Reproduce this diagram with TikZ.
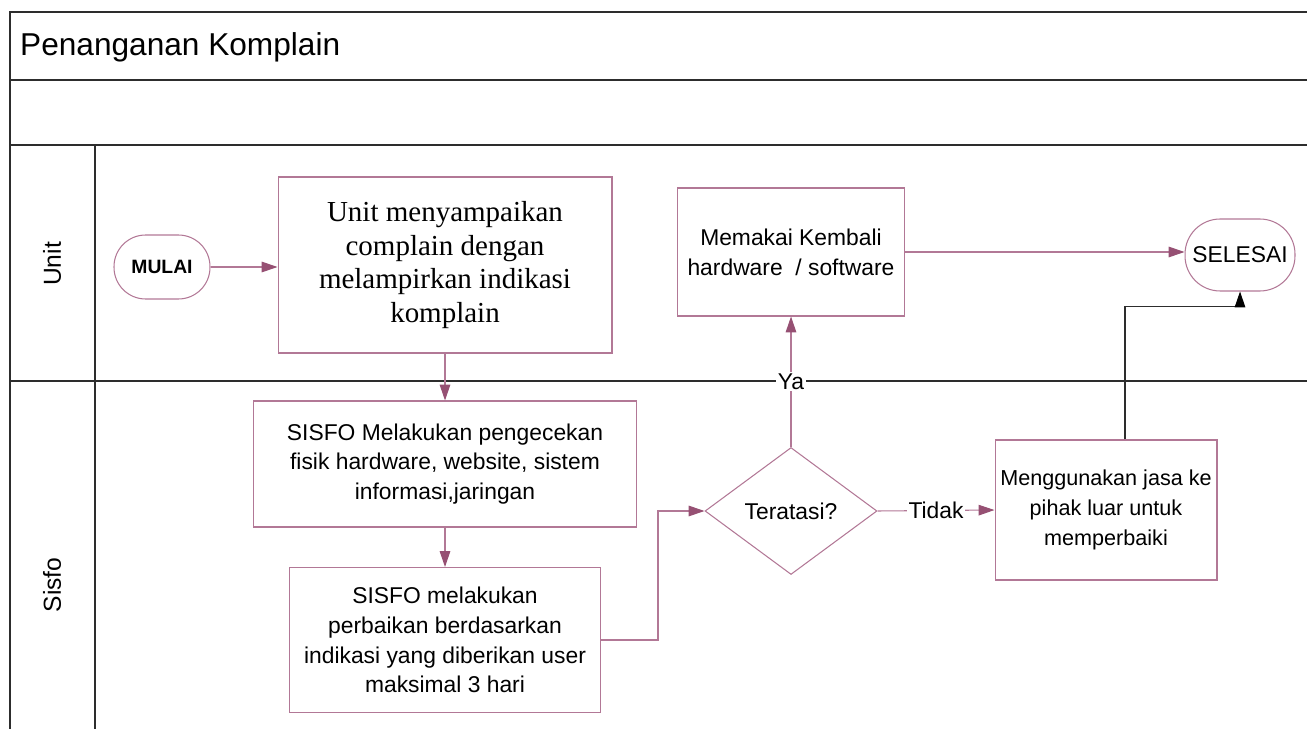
\documentclass[tikz,border=0pt]{standalone}
\usepackage{fontspec}
\setmainfont{Liberation Sans}
\newfontfamily\hurufserif{Liberation Serif}
\usepackage{tikz}
\usetikzlibrary{shapes.geometric, arrows.meta}
\definecolor{garis}{RGB}{178,120,150}
\definecolor{panah}{RGB}{150,80,115}
\definecolor{bingkai}{RGB}{45,45,45}
\tikzstyle{kotak} = [draw=garis, line width=0.6pt, rectangle, align=center, inner sep=0pt, font=\fontsize{13}{17}\selectfont]
\tikzstyle{terminal} = [draw=garis, line width=0.6pt, rectangle, align=center, inner sep=0pt]
\tikzstyle{keputusan} = [draw=garis, line width=0.6pt, diamond, align=center, inner sep=0pt, font=\fontsize{13}{16}\selectfont]
\tikzstyle{alur} = [draw=garis, line width=0.6pt, -{Triangle[length=9pt,width=6pt,color=panah]}]
\tikzstyle{alurhitam} = [draw=bingkai, line width=0.6pt, -{Triangle[length=9pt,width=6pt,color=black]}]
\tikzstyle{ket} = [fill=white, inner sep=1pt, font=\fontsize{13}{15}\selectfont]

\begin{document}
\begin{tikzpicture}[x=0.02cm,y=-0.02cm]
\useasboundingbox (0,0) rectangle (1307,729);

% Bingkai dan lajur
\begin{scope}[color=bingkai, line width=0.8pt]
\draw (10,729) -- (10,12) -- (1307,12);
\draw (10,80) -- (1307,80);
\draw (10,145) -- (1307,145);
\draw (10,381) -- (1307,381);
\draw (95,145) -- (95,729);
\end{scope}

\node[anchor=west, font=\fontsize{18}{20}\selectfont] (judul) at (14,47) {Penanganan Komplain};
\node[rotate=90, font=\fontsize{14}{16}\selectfont] (lajurunit) at (52,264) {Unit};
\node[rotate=90, font=\fontsize{14}{16}\selectfont] (lajursisfo) at (52,585) {Sisfo};

% Lajur Unit
\node[terminal, rounded corners=18pt, minimum width=1.92cm, minimum height=1.28cm, font=\fontsize{11}{13}\selectfont\bfseries] (mulai) at (162,267) {MULAI};
\node[kotak, minimum width=6.68cm, minimum height=3.52cm, font=\hurufserif\fontsize{16.5}{19}\selectfont] (sampaikan) at (445,265) {Unit menyampaikan\\complain dengan\\melampirkan indikasi\\komplain};
\node[kotak, minimum width=4.54cm, minimum height=2.56cm] (pakai) at (791,252) {Memakai Kembali\\hardware \ / software};
\node[terminal, rounded corners=20pt, minimum width=2.2cm, minimum height=1.44cm, font=\fontsize{13}{15}\selectfont] (selesai) at (1240,255) {SELESAI};

% Lajur Sisfo
\node[kotak, minimum width=7.66cm, minimum height=2.52cm] (cek) at (445,464) {SISFO Melakukan pengecekan\\fisik hardware, website, sistem\\informasi,jaringan};
\node[kotak, minimum width=6.22cm, minimum height=2.9cm] (perbaikan) at (445,640) {SISFO melakukan\\perbaikan berdasarkan\\indikasi yang diberikan user\\maksimal 3 hari};
\node[keputusan, minimum width=3.44cm, minimum height=2.54cm] (teratasi) at (791,511) {Teratasi?};
\node[kotak, minimum width=4.44cm, minimum height=2.8cm, font=\fontsize{12.3}{17}\selectfont] (luar) at (1106,510) {Menggunakan jasa ke\\pihak luar untuk\\memperbaiki};

% Alur
\draw[alur] (mulai.east) -- (mulai.east -| sampaikan.west);
\draw[alur] (sampaikan.south) -- (cek.north);
\draw[alur] (cek.south) -- (perbaikan.north);
\draw[alur] (perbaikan.east) -- ++(57,0) |- (teratasi.west);
\draw[alur] (teratasi.north) -- node[ket] {Ya} (pakai.south);
\draw[alur] (teratasi.east) -- node[ket] {Tidak} (luar.west);
\draw[alur] (pakai.east) -- (pakai.east -| selesai.west);
\draw[alurhitam] ([xshift=0.38cm]luar.north) -- ++(0,-133) -| (selesai.south);

\end{tikzpicture}
\end{document}
